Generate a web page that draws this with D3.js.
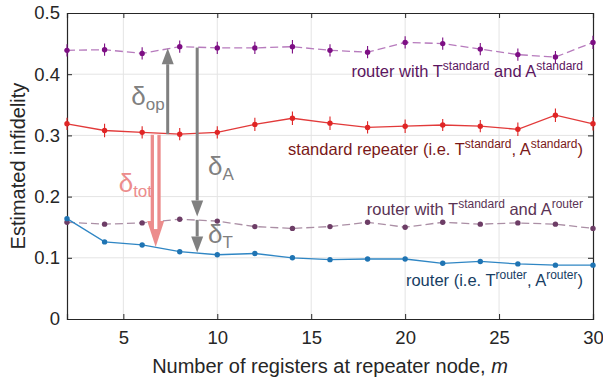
<!DOCTYPE html>
<html>
<head>
<meta charset="utf-8">
<script src="https://cdn.jsdelivr.net/npm/d3@7"></script>
<style>
  body { margin: 0; background: #fff; }
  svg { display: block; font-family: "Liberation Sans", Arial, sans-serif; }
</style>
</head>
<body>
<div id="chart"></div>
<script>
// number of registers m
const registers = [2, 4, 6, 8, 10, 12, 14, 16, 18, 20, 22, 24, 26, 28, 30];

// router with T^standard and A^standard
const routerStdStd = [0.439, 0.440, 0.434, 0.445, 0.443, 0.443, 0.445, 0.439, 0.436, 0.452, 0.450, 0.441, 0.432, 0.428, 0.452];
const routerStdStdErr = [0.010, 0.010, 0.010, 0.010, 0.010, 0.010, 0.011, 0.010, 0.010, 0.010, 0.010, 0.010, 0.010, 0.010, 0.011];

// standard repeater
const standardRepeater = [0.319, 0.308, 0.305, 0.302, 0.305, 0.318, 0.328, 0.320, 0.313, 0.315, 0.317, 0.315, 0.310, 0.333, 0.319];
const standardRepeaterErr = [0.010, 0.011, 0.010, 0.010, 0.010, 0.011, 0.011, 0.011, 0.010, 0.011, 0.010, 0.010, 0.011, 0.011, 0.011];

// router with T^standard and A^router
const routerStdRouter = [0.158, 0.155, 0.157, 0.163, 0.160, 0.151, 0.148, 0.151, 0.158, 0.150, 0.158, 0.155, 0.157, 0.155, 0.148];

// router (T^router, A^router)
const routerOnly = [0.164, 0.126, 0.121, 0.110, 0.105, 0.107, 0.100, 0.097, 0.098, 0.098, 0.091, 0.094, 0.090, 0.088, 0.088];

const xTicks = [5, 10, 15, 20, 25, 30];
const yTicks = [0, 0.1, 0.2, 0.3, 0.4, 0.5];

// gap arrows (x in m, from / to in infidelity)
const grayArrows = [
  { m: 7.36, from: 0.302, to: 0.4425 },
  { m: 8.93, from: 0.4435, to: 0.1675 },
  { m: 8.93, from: 0.162, to: 0.1087 }
];
const totArrow = { m: 6.72, from: 0.301, to: 0.1175 };

function renderChart() {
  const width = 603;
  const height = 378;
  const margin = { top: 13, right: 10, bottom: 59, left: 67 };

  const svg = d3.select("#chart")
    .append("svg")
    .attr("width", width)
    .attr("height", height);

  const x = d3.scaleLinear().domain([2, 30]).range([margin.left, width - margin.right]);
  const y = d3.scaleLinear().domain([0, 0.5]).range([height - margin.bottom, margin.top]);

  // grid
  svg.append("g")
    .selectAll("line")
    .data(xTicks.slice(0, -1))
    .join("line")
    .attr("x1", d => x(d)).attr("x2", d => x(d))
    .attr("y1", y(0)).attr("y2", y(0.5))
    .attr("stroke", "#e4e4e4");
  svg.append("g")
    .selectAll("line")
    .data(yTicks.slice(1, -1))
    .join("line")
    .attr("x1", x(2)).attr("x2", x(30))
    .attr("y1", d => y(d)).attr("y2", d => y(d))
    .attr("stroke", "#e4e4e4");

  // axes (ticks inward, box)
  const tickFont = "18.5px";
  svg.append("g")
    .attr("transform", `translate(0,${y(0)})`)
    .call(d3.axisBottom(x).tickValues(xTicks).tickSize(-5).tickPadding(12).tickFormat(d3.format("d")));
  svg.append("g")
    .attr("transform", `translate(${x(2)},0)`)
    .call(d3.axisLeft(y).tickValues(yTicks).tickSize(-5).tickPadding(7).tickFormat(d => d === 0 ? "0" : d3.format(".1f")(d)));
  svg.append("g")
    .attr("transform", `translate(0,${y(0.5)})`)
    .call(d3.axisTop(x).tickValues(xTicks).tickSize(-5).tickFormat(""));
  svg.append("g")
    .attr("transform", `translate(${x(30)},0)`)
    .call(d3.axisRight(y).tickValues(yTicks).tickSize(-5).tickFormat(""));

  svg.selectAll(".domain").attr("stroke", "#262626").attr("stroke-width", 1.2);
  svg.selectAll(".tick line").attr("stroke", "#262626");
  svg.selectAll(".tick text").attr("fill", "#262626").style("font-size", tickFont).style("font-family", "Liberation Sans, Arial, sans-serif");

  // axis labels
  const xl = svg.append("text")
    .attr("x", (x(2) + x(30)) / 2)
    .attr("y", 373)
    .attr("text-anchor", "middle")
    .attr("fill", "#262626")
    .style("font-size", "20px")
    .text("Number of registers at repeater node, ");
  xl.append("tspan").style("font-style", "italic").text("m");

  svg.append("text")
    .attr("transform", `translate(25,${(y(0) + y(0.5)) / 2}) rotate(-90)`)
    .attr("text-anchor", "middle")
    .attr("fill", "#262626")
    .style("font-size", "20px")
    .text("Estimated infidelity");

  // series
  const series = [
    { values: routerStdStd, err: routerStdStdErr, line: "#b77bbd", dot: "#7d0e84", dash: "8,4" },
    { values: standardRepeater, err: standardRepeaterErr, line: "#e23a3a", dot: "#e02525", dash: null },
    { values: routerStdRouter, err: null, line: "#ab8fa5", dot: "#6d3d66", dash: "8,4" },
    { values: routerOnly, err: null, line: "#2f86c4", dot: "#1f74b3", dash: null }
  ];

  const line = d3.line().x(d => x(d[0])).y(d => y(d[1]));

  series.forEach(s => {
    const pts = registers.map((m, i) => [m, s.values[i], s.err ? s.err[i] : 0]);
    svg.append("path")
      .datum(pts)
      .attr("fill", "none")
      .attr("stroke", s.line)
      .attr("stroke-width", 1.3)
      .attr("stroke-dasharray", s.dash)
      .attr("d", line);
    if (s.err) {
      svg.append("g")
        .selectAll("line")
        .data(pts)
        .join("line")
        .attr("x1", d => x(d[0])).attr("x2", d => x(d[0]))
        .attr("y1", d => y(d[1] - d[2])).attr("y2", d => y(d[1] + d[2]))
        .attr("stroke", s.dot)
        .attr("stroke-width", 1.1);
    }
    svg.append("g")
      .selectAll("circle")
      .data(pts)
      .join("circle")
      .attr("cx", d => x(d[0]))
      .attr("cy", d => y(d[1]))
      .attr("r", 2.7)
      .attr("fill", s.dot);
  });

  // series labels, right aligned
  const labels = [
    { y: 76.5, color: "#5b1560", parts: [["router with T", 0], ["standard", 1], [" and A", 0], ["standard", 1]] },
    { y: 155, color: "#7a1818", parts: [["standard repeater (i.e. T", 0], ["standard", 1], [", A", 0], ["standard", 1], [")", 0]] },
    { y: 215, color: "#5a3354", parts: [["router with T", 0], ["standard", 1], [" and A", 0], ["router", 1]] },
    { y: 285.5, color: "#173d63", parts: [["router (i.e. T", 0], ["router", 1], [", A", 0], ["router", 1], [")", 0]] }
  ];
  labels.forEach(l => {
    const t = svg.append("text")
      .attr("x", 583)
      .attr("y", l.y)
      .attr("text-anchor", "end")
      .attr("fill", l.color)
      .style("font-size", "16.5px");
    let up = false;
    l.parts.forEach(([txt, sup]) => {
      let dy = 0;
      if (sup && !up) { dy = -7; up = true; }
      else if (!sup && up) { dy = 7; up = false; }
      t.append("tspan")
        .attr("dy", dy)
        .style("font-size", sup ? "12px" : "16.5px")
        .text(txt);
    });
  });

  // gray arrows
  const gray = "#808080";
  grayArrows.forEach(a => {
    const dir = a.to > a.from ? 1 : -1;
    const tipY = y(a.to);
    const baseY = tipY + dir * 16;
    const cx = x(a.m);
    svg.append("line")
      .attr("x1", cx).attr("x2", cx)
      .attr("y1", y(a.from)).attr("y2", baseY)
      .attr("stroke", gray)
      .attr("stroke-width", 3);
    svg.append("path")
      .attr("d", `M${cx - 6},${baseY} L${cx + 6},${baseY} L${cx},${tipY} Z`)
      .attr("fill", gray);
  });

  // pink double arrow (delta tot)
  const pink = "#ec8c8c";
  const tx = x(totArrow.m);
  const tTip = y(totArrow.to);
  const tBase = tTip - 26;
  svg.append("line")
    .attr("x1", tx).attr("x2", tx)
    .attr("y1", y(totArrow.from)).attr("y2", tBase + 2)
    .attr("stroke", pink)
    .attr("stroke-width", 10);
  svg.append("path")
    .attr("d", `M${tx - 8.5},${tBase} L${tx + 8.5},${tBase} L${tx},${tTip} Z`)
    .attr("fill", pink);
  svg.append("line")
    .attr("x1", tx).attr("x2", tx)
    .attr("y1", y(totArrow.from)).attr("y2", tBase + 8)
    .attr("stroke", "#fff")
    .attr("stroke-width", 3.4);

  // delta labels
  const deltas = [
    { m: 5.42, v: 0.3496, sub: "op", color: gray },
    { m: 9.5, v: 0.2354, sub: "A", color: gray },
    { m: 9.5, v: 0.1245, sub: "T", color: gray },
    { m: 4.75, v: 0.2077, sub: "tot", color: pink }
  ];
  deltas.forEach(d => {
    const t = svg.append("text")
      .attr("x", x(d.m))
      .attr("y", y(d.v))
      .attr("fill", d.color)
      .style("font-size", "26px")
      .text("δ");
    t.append("tspan")
      .attr("dy", 5)
      .style("font-size", "17px")
      .text(d.sub);
  });
}

renderChart();
</script>
</body>
</html>
